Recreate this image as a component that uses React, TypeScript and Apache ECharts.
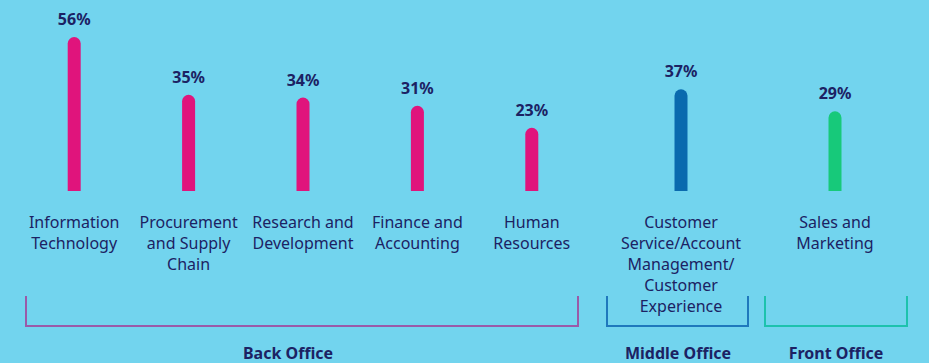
import React, { useEffect, useRef } from "react";
import * as echarts from "echarts";

const backCategories = [
  "Information\nTechnology",
  "Procurement\nand Supply\nChain",
  "Research and\nDevelopment",
  "Finance and\nAccounting",
  "Human\nResources",
];
const backValues = [56, 35, 34, 31, 23];
const middleCategories = ["Customer\nService/Account\nManagement/\nCustomer\nExperience"];
const middleValues = [37];
const frontCategories = ["Sales and\nMarketing"];
const frontValues = [29];
const groupNames = ["Back Office", "Middle Office", "Front Office"];

const BG = "#72d4ee";
const TEXT = "#1c2263";
const FONT = "'Noto Sans', sans-serif";

export default function App() {
  const ref = useRef<HTMLDivElement>(null);
  useEffect(() => {
    if (!ref.current) return;
    const chart = echarts.init(ref.current, undefined, { renderer: "svg" });
    const grids = [
      { left: 17, width: 572, top: 26, height: 165 },
      { left: 607, width: 148, top: 26, height: 165 },
      { left: 760, width: 150, top: 26, height: 165 },
    ];
    const cats = [backCategories, middleCategories, frontCategories];
    const vals = [backValues, middleValues, frontValues];
    const colors = ["#e0147c", "#0a6aae", "#17c97a"];
    const bracketColors = ["#9a5aa8", "#1f78bd", "#1dc2ad"];
    const brackets = [
      [26, 578],
      [607, 748],
      [765, 907],
    ];
    const labelCenters = [288, 678, 836];
    const graphic: any[] = [];
    brackets.forEach(([x1, x2], i) => {
      graphic.push({
        type: "polyline",
        silent: true,
        shape: {
          points: [
            [x1, 296],
            [x1, 326],
            [x2, 326],
            [x2, 296],
          ],
        },
        style: { stroke: bracketColors[i], lineWidth: 2, fill: "none" },
      });
      graphic.push({
        type: "text",
        silent: true,
        x: labelCenters[i],
        y: 353,
        style: {
          text: groupNames[i],
          fill: TEXT,
          font: `bold 16px ${FONT}`,
          align: "center",
          verticalAlign: "middle",
        },
      });
    });
    chart.setOption({
      animation: false,
      backgroundColor: BG,
      textStyle: { fontFamily: FONT },
      grid: grids,
      xAxis: cats.map((c, i) => ({
        type: "category",
        gridIndex: i,
        data: c,
        axisLine: { show: false },
        axisTick: { show: false },
        axisLabel: {
          interval: 0,
          color: TEXT,
          fontSize: 16,
          lineHeight: 21,
          margin: 20,
          fontFamily: FONT,
          verticalAlign: "top",
        },
      })),
      yAxis: cats.map((_, i) => ({
        type: "value",
        gridIndex: i,
        min: 0,
        max: 60,
        show: false,
        splitLine: { show: false },
      })),
      series: vals.map((v, i) => ({
        type: "bar",
        xAxisIndex: i,
        yAxisIndex: i,
        data: v,
        barWidth: 13,
        itemStyle: { color: colors[i], borderRadius: [7, 7, 0, 0] },
        label: {
          show: true,
          position: "top",
          distance: 10,
          formatter: "{c}%",
          color: TEXT,
          fontWeight: "bold",
          fontSize: 16,
          fontFamily: FONT,
        },
      })),
      graphic,
    });
    return () => chart.dispose();
  }, []);
  return (
    <div
      ref={ref}
      style={{ position: "fixed", left: 0, top: 0, width: 929, height: 363 }}
    />
  );
}
